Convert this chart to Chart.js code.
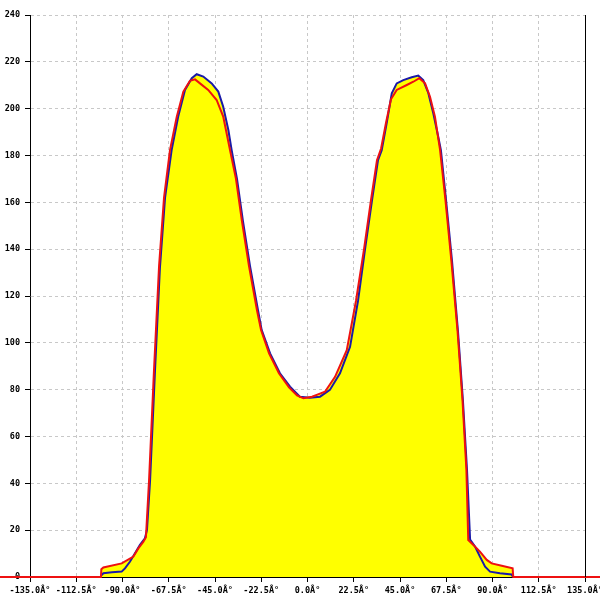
<!DOCTYPE html>
<html>
<head>
<meta charset="utf-8">
<script src="https://cdn.jsdelivr.net/npm/chart.js@4/dist/chart.umd.min.js"></script>
<style>
html,body{margin:0;padding:0;background:#fff;}
#wrap{width:600px;height:600px;}
</style>
</head>
<body>
<div id="wrap"><canvas id="c" width="600" height="600"></canvas></div>
<script>
// X tick settings (degrees)
const xMin = -135, xMax = 135, xStep = 22.5;
const yMin = 0, yMax = 240, yStep = 20;
const tickSuffix = 'Â°';

// Blue series
const blueAngles = [-100.5,-99.3,-95.1,-90.4,-88.8,-86.4,-84.0,-81.5,-79.1,-78.1,-76.6,-74.2,-71.8,-69.3,-66.1,-62.9,-59.6,-56.3,-53.9,-50.7,-46.6,-43.4,-41.0,-38.5,-36.9,-34.3,-31.4,-28.0,-24.1,-22.3,-18.2,-13.4,-8.5,-3.7,1.2,6.1,10.9,15.8,20.7,24.6,28.0,31.4,34.3,36.1,38.5,41.0,43.4,46.6,50.7,53.9,56.3,58.8,61.2,63.6,64.9,67.4,70.3,73.2,75.6,77.6,79.1,81.5,83.9,86.4,88.8,93.6,99.3,100.0];
const blueValues = [0.5,1.6,2.0,2.3,3.7,6.5,10,13.7,16.5,20,41,88,132,162,182.3,196.6,208,213,214.7,213.7,210.8,207.3,200.8,190.9,182.3,170,152,133,114,105.5,95.5,87,81.3,77,76.6,77,79.9,87,98.3,118,140,161,178,182.3,193.7,206.6,210.8,212.2,213.4,214.1,212.2,206.6,198,188,182.3,161,135,105,75.6,45.7,16,13,8.7,4.4,2.3,1.6,1.1,0];

// Red series
const redAngles = [-180,-100.5,-100.3,-99.3,-90.4,-84.7,-82.3,-79.9,-78.6,-77.1,-74.7,-72.2,-69.8,-66.9,-63.6,-60.4,-57.2,-54.7,-52.3,-48.3,-44.2,-41.0,-37.7,-34.8,-31.9,-28.5,-24.6,-22.6,-18.7,-13.9,-9.0,-5.1,-2.0,2.2,5.1,8.5,13.4,19.1,23.6,27.5,30.9,33.8,35.8,38.2,40.6,43.4,48.3,51.5,54.4,57.2,59.6,62.0,64.5,67.1,70.0,73.0,75.4,77.3,78.2,80.7,83.9,87.2,89.6,94.5,99.8,100.1,180];
const redValues = [0,0,3.3,4.1,5.8,8.7,12.2,15,17,41,88,133,162,182.3,196.6,207.3,211.9,212.5,210.8,208,203.7,196.6,182.3,170,152,133,114,105.5,95.5,87,81,77.5,76.3,77,78,79.1,85.5,96.9,118,140,161,178,183,194,204,208,210.1,211.5,213,210.8,205.1,196.6,182.3,161,135,105,75.6,45.7,15.8,13.7,10.8,7.3,5.8,4.8,3.7,0,0];

const toPts = (xs, ys) => xs.map((x, i) => ({x: x, y: ys[i]}));

const rightBorder = {
  id: 'rightBorder',
  afterDraw(chart) {
    const {ctx, chartArea} = chart;
    ctx.save();
    ctx.strokeStyle = '#000';
    ctx.lineWidth = 1;
    ctx.beginPath();
    ctx.moveTo(Math.round(chartArea.right) + 0.5, chartArea.top);
    ctx.lineTo(Math.round(chartArea.right) + 0.5, chartArea.bottom);
    ctx.stroke();
    ctx.restore();
  }
};

const tickFont = {family: "'DejaVu Sans Mono', monospace", size: 8.5, weight: 'bold'};

new Chart(document.getElementById('c'), {
  type: 'line',
  data: {
    datasets: [
      {
        label: 'red',
        data: toPts(redAngles, redValues),
        borderColor: '#ee1111',
        borderWidth: 2,
        backgroundColor: '#ffff00',
        fill: 'origin',
        pointRadius: 0,
        tension: 0,
        clip: false
      },
      {
        label: 'blue',
        data: toPts(blueAngles, blueValues),
        borderColor: '#1a1aa8',
        borderWidth: 2,
        backgroundColor: '#ffff00',
        fill: 'origin',
        pointRadius: 0,
        tension: 0
      }
    ]
  },
  options: {
    responsive: false,
    animation: false,
    devicePixelRatio: 1,
    layout: {padding: {top: 15, right: 15, left: 0, bottom: 0}},
    plugins: {
      legend: {display: false},
      tooltip: {enabled: false},
      filler: {drawTime: 'beforeDatasetsDraw'}
    },
    scales: {
      x: {
        type: 'linear',
        min: xMin, max: xMax,
        ticks: {
          stepSize: xStep,
          autoSkip: false,
          maxRotation: 0,
          padding: 4,
          color: '#000',
          font: tickFont,
          callback: v => v.toFixed(1) + tickSuffix
        },
        grid: {
          color: '#c8c8c8',
          lineWidth: 1,
          tickLength: 5,
          tickColor: '#000',
          tickBorderDash: []
        },
        border: {display: true, color: '#000', width: 1, dash: [3, 3]},
        afterFit(scale) {
          scale.height = 23;
          scale.paddingLeft = 0;
          scale.paddingRight = 0;
        }
      },
      y: {
        min: yMin, max: yMax,
        ticks: {
          stepSize: yStep,
          padding: 5,
          color: '#000',
          font: tickFont
        },
        grid: {
          color: '#c8c8c8',
          lineWidth: 1,
          tickLength: 5,
          tickColor: '#000',
          tickBorderDash: []
        },
        border: {display: true, color: '#000', width: 1, dash: [3, 3]},
        afterFit(scale) {
          scale.width = 30;
          scale.paddingTop = 0;
          scale.paddingBottom = 0;
        }
      }
    }
  },
  plugins: [rightBorder]
});
</script>
</body>
</html>
